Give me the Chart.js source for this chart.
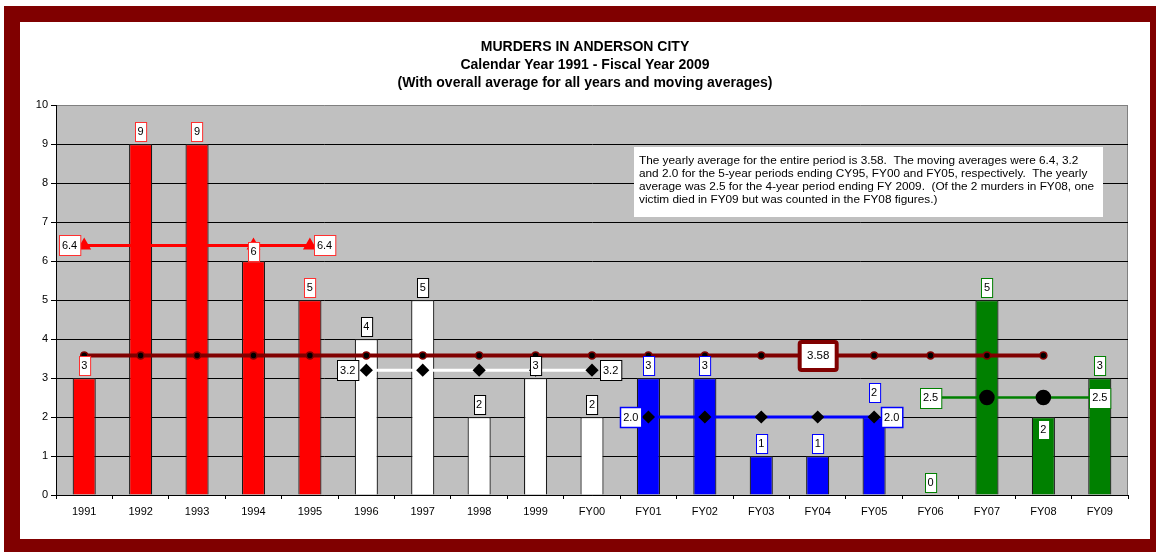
<!DOCTYPE html>
<html>
<head>
<meta charset="utf-8">
<script src="https://cdn.jsdelivr.net/npm/chart.js@4/dist/chart.umd.min.js"></script>
<style>
  html, body { margin:0; padding:0; background:#fff; }
  #wrap { width:1156px; height:552px; }
</style>
</head>
<body>
<div id="wrap"><canvas id="c" width="1156" height="552"></canvas></div>
<script>
// ---- data ----
const categories = ['1991','1992','1993','1994','1995','1996','1997','1998','1999','FY00',
                    'FY01','FY02','FY03','FY04','FY05','FY06','FY07','FY08','FY09'];
const murders = [3, 9, 9, 6, 5, 4, 5, 2, 3, 2, 3, 3, 1, 1, 2, 0, 5, 2, 3];
const overallAverage = [3.58,3.58,3.58,3.58,3.58,3.58,3.58,3.58,3.58,3.58,3.58,3.58,3.58,3.58,3.58,3.58,3.58,3.58,null];
const movingAvgCY95 = [6.4,6.4,6.4,6.4,6.4,null,null,null,null,null,null,null,null,null,null,null,null,null,null];
const movingAvgFY00 = [null,null,null,null,null,3.2,3.2,3.2,3.2,3.2,null,null,null,null,null,null,null,null,null];
const movingAvgFY05 = [null,null,null,null,null,null,null,null,null,null,2.0,2.0,2.0,2.0,2.0,null,null,null,null];
const movingAvgFY09 = [null,null,null,null,null,null,null,null,null,null,null,null,null,null,null,2.5,2.5,2.5,2.5];
const yTicks = [0,1,2,3,4,5,6,7,8,9,10];
const titleLines = ['MURDERS IN ANDERSON CITY', 'Calendar Year 1991 - Fiscal Year 2009',
                    '(With overall average for all years and moving averages)'];
const noteLines = [
  'The yearly average for the entire period is 3.58.  The moving averages were 6.4, 3.2',
  'and 2.0 for the 5-year periods ending CY95, FY00 and FY05, respectively.  The yearly',
  'average was 2.5 for the 4-year period ending FY 2009.  (Of the 2 murders in FY08, one',
  'victim died in FY09 but was counted in the FY08 figures.)'
];

// ---- styles ----
const FONT = '"Liberation Sans", Arial, sans-serif';
Chart.defaults.font.family = FONT;
Chart.defaults.color = '#000';
const groupFill   = ['#ff0000', '#ffffff', '#0000ff', '#008000'];
const groupBorder = ['#ff3030', '#000000', '#0000ff', '#008000'];
const groupOf = i => (i < 15 ? Math.floor(i / 5) : 3);

function drawBox(ctx, cx, cy, text, border, lw, padX, h, font) {
  ctx.save();
  ctx.font = font || ('11px ' + FONT);
  const tw = ctx.measureText(text).width;
  const w = tw + (padX || 5);
  h = h || 19;
  const x = Math.round(cx - w / 2) + 0.5, y = Math.round(cy - h / 2) + 0.5;
  ctx.fillStyle = '#fff';
  ctx.fillRect(x, y, w, h);
  ctx.strokeStyle = border;
  ctx.lineWidth = lw || 1;
  ctx.strokeRect(x, y, w, h);
  ctx.fillStyle = '#000';
  ctx.textAlign = 'center';
  ctx.textBaseline = 'middle';
  ctx.fillText(text, cx, cy + 0.5);
  ctx.restore();
  return w;
}

const decor = {
  id: 'decor',
  beforeDraw(chart) {
    const c = chart.ctx, a = chart.chartArea;
    c.save();
    c.fillStyle = '#fff'; c.fillRect(0, 0, 1156, 552);
    c.fillStyle = '#800000'; c.fillRect(4, 6, 1152, 546);
    c.fillStyle = '#fff'; c.fillRect(20, 22, 1130, 517);
    c.fillStyle = '#c0c0c0'; c.fillRect(a.left, a.top, a.right - a.left, a.bottom - a.top);
    c.strokeStyle = '#808080'; c.lineWidth = 1;
    c.beginPath(); c.moveTo(Math.round(a.right) - 0.5, a.top); c.lineTo(Math.round(a.right) - 0.5, a.bottom); c.stroke();
    // title
    c.fillStyle = '#000';
    c.font = 'bold 14px ' + FONT;
    c.textAlign = 'center'; c.textBaseline = 'middle';
    titleLines.forEach((t, k) => c.fillText(t, 585, 47 + k * 18));
    c.restore();
  },
  afterDatasetsDraw(chart) {
    const c = chart.ctx;
    // annotation note
    c.save();
    c.fillStyle = '#fff';
    c.fillRect(634, 147, 469, 70);
    c.fillStyle = '#000';
    c.font = '11.8px ' + FONT;
    c.textAlign = 'left'; c.textBaseline = 'middle';
    noteLines.forEach((t, k) => c.fillText(t, 639, 160.5 + k * 13));
    c.restore();

    // value labels on bars
    const bars = chart.getDatasetMeta(5).data;
    bars.forEach((b, i) => {
      const v = murders[i];
      const g = groupOf(i);
      let cy;
      if (categories[i] === 'FY08') cy = b.y + 3 + 9.5;        // label sits inside the bar top
      else if (categories[i] === 'FY05') cy = b.y - 15 - 9.5;  // lifted clear of the 2.0 label
      else if (categories[i] === '1994') cy = b.y - 9.5;
      else cy = b.y - 3 - 9.5;
      drawBox(c, b.x, cy, String(v), groupBorder[g], 1, 5, 19);
    });

    // moving average end labels
    const ends = (idx, series, text, border, mode, lw) => {
      const pts = chart.getDatasetMeta(idx).data;
      const vals = series.map((v, i) => v === null ? -1 : i).filter(i => i >= 0);
      const first = pts[vals[0]], last = pts[vals[vals.length - 1]];
      c.save(); c.font = '11px ' + FONT;
      const w = c.measureText(text).width + 6; c.restore();
      if (mode === 'center') {
        drawBox(c, first.x, first.y, text, border, lw, 6, 20);
        drawBox(c, last.x, last.y, text, border, lw, 6, 20);
      } else {
        drawBox(c, first.x - mode - w / 2, first.y, text, border, lw, 6, 20);
        drawBox(c, last.x + mode + w / 2, last.y, text, border, lw, 6, 20);
      }
    };
    ends(1, movingAvgCY95, '6.4', '#ff3030', 4, 1);
    ends(2, movingAvgFY00, '3.2', '#000000', 8, 1);
    ends(3, movingAvgFY05, '2.0', '#0000ff', 7, 1.5);
    ends(4, movingAvgFY09, '2.5', '#008000', 'center', 1);

    // overall average label (at FY04)
    const ap = chart.getDatasetMeta(0).data;
    const ax = ap[13].x;
    c.save();
    c.fillStyle = '#fff';
    c.strokeStyle = '#800000';
    c.lineWidth = 4;
    c.beginPath();
    if (c.roundRect) c.roundRect(ax - 18, ap[13].y - 13.5, 37, 28, 2); else c.rect(ax - 18, ap[13].y - 13.5, 37, 28);
    c.fill(); c.stroke();
    c.fillStyle = '#000';
    c.font = '11.5px ' + FONT;
    c.textAlign = 'center'; c.textBaseline = 'middle';
    c.fillText('3.58', ax + 0.5, ap[13].y + 0.5);
    c.restore();
  }
};

new Chart(document.getElementById('c'), {
  data: {
    labels: categories,
    datasets: [
      { type: 'line', label: 'Overall average', data: overallAverage, order: 5,
        borderColor: '#800000', borderWidth: 4,
        pointRadius: 3.5, pointBackgroundColor: '#000', pointBorderColor: '#800000', pointBorderWidth: 1.5 },
      { type: 'line', label: '5-yr avg CY95', data: movingAvgCY95, order: 4,
        borderColor: '#ff0000', borderWidth: 3,
        pointStyle: 'triangle', pointRadius: 5, pointBackgroundColor: '#ff0000', pointBorderColor: '#ff0000' },
      { type: 'line', label: '5-yr avg FY00', data: movingAvgFY00, order: 3,
        borderColor: '#ffffff', borderWidth: 3,
        pointStyle: 'rectRot', pointRadius: 4.5, pointBackgroundColor: '#000', pointBorderColor: '#000' },
      { type: 'line', label: '5-yr avg FY05', data: movingAvgFY05, order: 2,
        borderColor: '#0000ff', borderWidth: 3,
        pointStyle: 'rectRot', pointRadius: 4.5, pointBackgroundColor: '#000', pointBorderColor: '#000' },
      { type: 'line', label: '4-yr avg FY09', data: movingAvgFY09, order: 1,
        borderColor: '#008000', borderWidth: 2.5,
        pointStyle: 'circle', pointRadius: 6.5, pointBackgroundColor: '#000', pointBorderColor: '#000' },
      { type: 'bar', label: 'Murders', data: murders, order: 10,
        backgroundColor: murders.map((v, i) => groupFill[groupOf(i)]),
        borderColor: '#1a1a1a', borderWidth: 1.2,
        categoryPercentage: 1, barPercentage: 0.41 }
    ]
  },
  options: {
    responsive: false,
    animation: false,
    devicePixelRatio: 1,
    layout: { padding: { top: 105, right: 28, left: 0, bottom: 0 } },
    plugins: { legend: { display: false }, tooltip: { enabled: false }, title: { display: false } },
    scales: {
      x: {
        offset: true,
        afterFit: s => { s.height = 57; },
        grid: { drawOnChartArea: false, drawTicks: true, tickLength: 4, color: '#000', offset: true },
        border: { display: true, color: '#000', width: 1 },
        ticks: { font: { size: 11 }, color: '#000', padding: 6, maxRotation: 0, autoSkip: false }
      },
      y: {
        min: 0, max: 10,
        afterFit: s => { s.width = 56; },
        afterBuildTicks: s => { s.ticks = yTicks.map(v => ({ value: v })); },
        grid: { color: ctx => (ctx.tick && ctx.tick.value === 10 ? '#808080' : '#000'), lineWidth: 1, tickLength: 5,
                tickColor: '#000' },
        border: { display: true, color: '#000', width: 1 },
        ticks: { font: { size: 11 }, color: '#000', padding: 3 }
      }
    }
  },
  plugins: [decor]
});
</script>
</body>
</html>
